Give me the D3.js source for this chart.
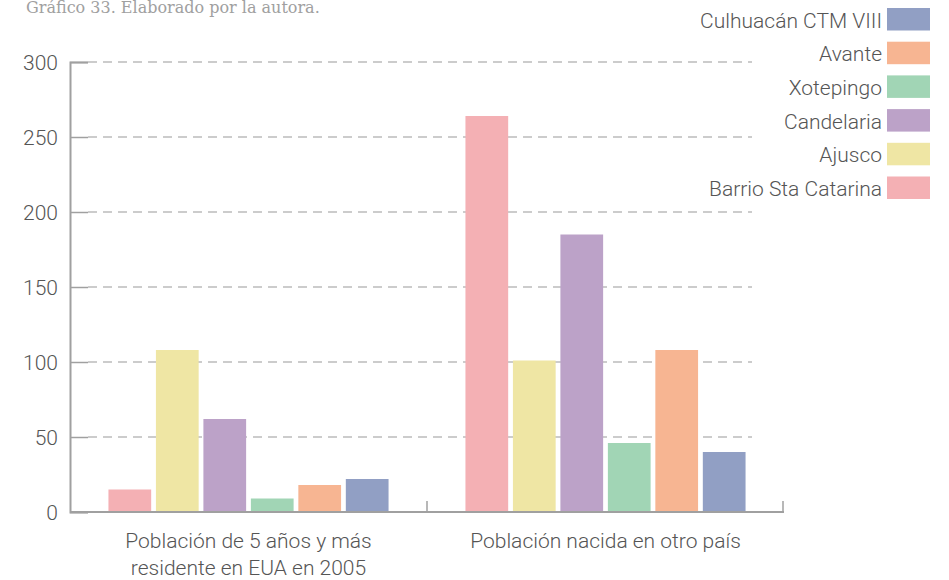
<!DOCTYPE html>
<html>
<head>
<meta charset="utf-8">
<script src="https://cdn.jsdelivr.net/npm/d3@7"></script>
<style>
  body { margin: 0; background: #fff; }
  text { font-family: Roboto, sans-serif; font-weight: 300; fill: #555; }
</style>
</head>
<body>
<div id="chart"></div>
<script>
// data
var groups = ["Población de 5 años y más\nresidente en EUA en 2005", "Población nacida en otro país"];
var series = ["Barrio Sta Catarina", "Ajusco", "Candelaria", "Xotepingo", "Avante", "Culhuacán CTM VIII"];
var colors = ["#f4b0b4", "#efe6a4", "#bca2c8", "#a1d5b5", "#f7b592", "#919fc4"];
var values5 = [15, 108, 62, 9, 18, 22];
var valuesOtro = [264, 101, 185, 46, 108, 40];
var yTicks = [0, 50, 100, 150, 200, 250, 300];

var width = 949, height = 580;
var svg = d3.select("#chart").append("svg")
    .attr("width", width)
    .attr("height", height);

var x0 = d3.scaleBand().domain(groups).range([70, 784]);
var x1 = d3.scaleBand().domain(series).range([0, x0.bandwidth()])
    .paddingInner(0.1).paddingOuter(0.81);
var y = d3.scaleLinear().domain([0, 300]).range([512, 62]);

// caption
svg.append("text")
    .attr("x", 26).attr("y", 13)
    .style("font-family", "'DejaVu Serif', serif")
    .style("font-size", "16px")
    .style("fill", "#a0a0a0")
    .text("Gráfico 33. Elaborado por la autora.");

// grid lines
svg.append("g").selectAll("line")
    .data(yTicks.filter(function(d) { return d > 0; }))
    .join("line")
    .attr("x1", 88).attr("x2", 752)
    .attr("y1", function(d) { return y(d); })
    .attr("y2", function(d) { return y(d); })
    .attr("stroke", "#bcbcbc")
    .attr("stroke-width", 1.3)
    .attr("stroke-dasharray", "9,6");

// y axis
var yAxis = svg.append("g")
    .attr("transform", "translate(70,0)")
    .call(d3.axisRight(y).tickValues(yTicks).tickSize(18).tickFormat(""));
yAxis.select(".domain").attr("stroke", "#a0a0a0").attr("stroke-width", 2);
yAxis.selectAll(".tick line").attr("stroke", "#a0a0a0").attr("stroke-width", 1.5);

svg.append("g").selectAll("text")
    .data(yTicks)
    .join("text")
    .attr("x", 58)
    .attr("y", function(d) { return y(d); })
    .attr("dy", "0.36em")
    .attr("text-anchor", "end")
    .style("font-size", "21px")
    .text(function(d) { return d; });

// bars
var rows = groups.map(function(g, i) {
  var vals = i === 0 ? values5 : valuesOtro;
  return { group: g, vals: vals };
});

svg.append("g").selectAll("g")
    .data(rows)
    .join("g")
    .attr("transform", function(d) { return "translate(" + x0(d.group) + ",0)"; })
    .selectAll("rect")
    .data(function(d) { return d.vals.map(function(v, j) { return { key: series[j], value: v, color: colors[j] }; }); })
    .join("rect")
    .attr("x", function(d) { return x1(d.key); })
    .attr("width", x1.bandwidth())
    .attr("y", function(d) { return y(d.value); })
    .attr("height", function(d) { return y(0) - y(d.value); })
    .attr("fill", function(d) { return d.color; });

// x axis
var xAxis = svg.append("g")
    .attr("transform", "translate(0," + y(0) + ")");
xAxis.append("line")
    .attr("x1", 70).attr("x2", 784)
    .attr("stroke", "#a0a0a0").attr("stroke-width", 2);
xAxis.selectAll(".sep")
    .data([x0(groups[1]), x0(groups[1]) + x0.bandwidth() - 1])
    .join("line")
    .attr("class", "sep")
    .attr("x1", function(d) { return d; })
    .attr("x2", function(d) { return d; })
    .attr("y1", 0).attr("y2", -11)
    .attr("stroke", "#a0a0a0").attr("stroke-width", 1.5);

var labels = svg.append("g").selectAll("text")
    .data(groups)
    .join("text")
    .attr("x", function(d) { return x0(d) + x0.bandwidth() / 2; })
    .attr("y", 548)
    .attr("text-anchor", "middle")
    .style("font-size", "21px");
labels.selectAll("tspan")
    .data(function(d) { return d.split("\n"); })
    .join("tspan")
    .attr("x", function() { return d3.select(this.parentNode).attr("x"); })
    .attr("dy", function(d, i) { return i === 0 ? 0 : 27; })
    .text(function(d) { return d; });

// legend, reversed order from top
var legendItems = series.map(function(s, i) { return { name: s, color: colors[i] }; }).reverse();
var legend = svg.append("g").selectAll("g")
    .data(legendItems)
    .join("g")
    .attr("transform", function(d, i) { return "translate(0," + (8 + i * 33.7) + ")"; });
legend.append("rect")
    .attr("x", 887).attr("width", 43).attr("height", 22.5)
    .attr("fill", function(d) { return d.color; });
legend.append("text")
    .attr("x", 882).attr("y", 11.25)
    .attr("dy", "0.4em")
    .attr("text-anchor", "end")
    .style("font-size", "21px")
    .text(function(d) { return d.name; });
</script>
</body>
</html>
